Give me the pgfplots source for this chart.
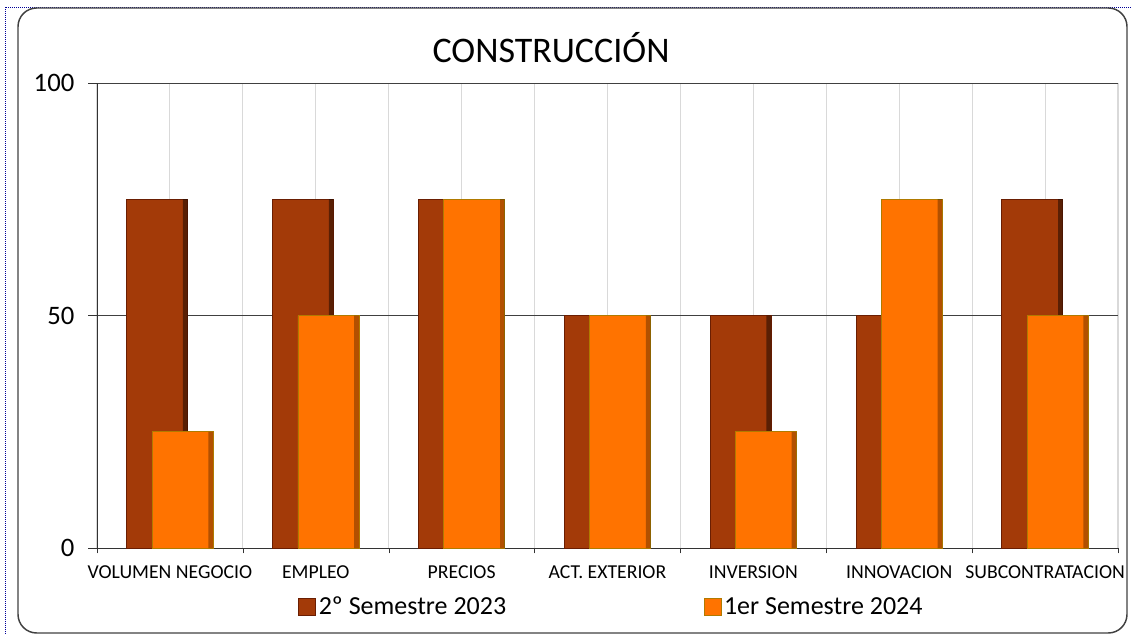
\documentclass[border=0pt]{standalone}
\usepackage{pgfplots}
\pgfplotsset{compat=1.18}
\usepackage{fontspec}
\setmainfont{Carlito}

\definecolor{semA}{HTML}{A33A08}
\definecolor{semAedge}{HTML}{6A1E02}
\definecolor{semAtop}{HTML}{C0200A}
\definecolor{semB}{HTML}{FF7300}
\definecolor{semBedge}{HTML}{B07A00}
\definecolor{gridc}{HTML}{D9D9D9}

\begin{document}
\begin{tikzpicture}[x=0.75pt,y=-0.75pt]
% page = reference pixels (1132 x 634)
\path[use as bounding box] (0,0) rectangle (1132,634);
\draw[blue!60!black, densely dotted, line width=0.5pt] (5,634) -- (5,7) -- (1132,7);
\draw[black!75, line width=1.1pt, rounded corners=14pt] (18,8) rectangle (1127,633);

\node[font=\fontsize{27}{31}\selectfont] at (551,48) {CONSTRUCCIÓN};

\begin{axis}[
    at={(72.75pt,-411pt)}, anchor=south west,
    scale only axis,
    width=765.75pt, height=348.75pt,
    xmin=-0.5, xmax=6.5,
    ymin=0, ymax=100,
    axis x line*=bottom, axis y line*=left,
    x axis line style={-, black!80},
    y axis line style={-, black!80},
    xtick={0,...,6},
    xticklabels={VOLUMEN NEGOCIO, EMPLEO, PRECIOS, ACT. EXTERIOR, INVERSION, INNOVACION, SUBCONTRATACION},
    minor xtick={-0.5,0.5,...,6.5},
    xmajorgrids, xminorgrids,
    major x grid style={gridc, line width=0.8pt},
    minor x grid style={gridc, line width=0.8pt},
    x tick style={draw=none},
    minor x tick style={draw=black!80},
    minor tick length=4pt,
    ytick={0,50,100},
    ymajorgrids,
    major y grid style={black!75, line width=0.6pt},
    y tick style={black!80},
    major tick length=6.5pt,
    tick align=outside,
    xticklabel style={font=\fontsize{14.8}{17}\selectfont, yshift=-3.5pt},
    yticklabel style={font=\fontsize{20}{23}\selectfont, xshift=-7pt},
    /pgf/number format/assume math mode=true,
    legend columns=2,
    legend style={at={(0.1969,-0.127)}, anchor=west, draw=none, fill=none,
        inner sep=0pt, nodes={inner xsep=2pt},
        font=\fontsize{19.5}{22}\selectfont,
        /tikz/every even column/.append style={column sep=146pt}},
    legend image code/.code={\path[#1] (0pt,-6.4pt) rectangle (12.75pt,6.4pt);},
]
% 2º semestre 2023
\addplot[ybar, bar width=0.418, bar shift=-0.087, fill=semA, draw=semAedge, line width=0.6pt]
    coordinates {(0,75) (1,75) (2,75) (3,50) (4,50) (5,50) (6,75)};
\addlegendentry{2º Semestre 2023}
% dark right-hand bevel
\addplot[ybar, forget plot, bar width=0.032, bar shift=0.105, fill=black, fill opacity=0.45, draw=none]
    coordinates {(0,75) (1,75) (2,75) (3,50) (4,50) (5,50) (6,75)};
% 1er semestre 2024
\addplot[ybar, bar width=0.418, bar shift=0.087, fill=semB, draw=semBedge, line width=0.6pt]
    coordinates {(0,25) (1,50) (2,75) (3,50) (4,25) (5,75) (6,50)};
\addlegendentry{1er Semestre 2024}
\addplot[ybar, forget plot, bar width=0.032, bar shift=0.279, fill=black, fill opacity=0.3, draw=none]
    coordinates {(0,25) (1,50) (2,75) (3,50) (4,25) (5,75) (6,50)};
\end{axis}
\end{tikzpicture}
\end{document}
